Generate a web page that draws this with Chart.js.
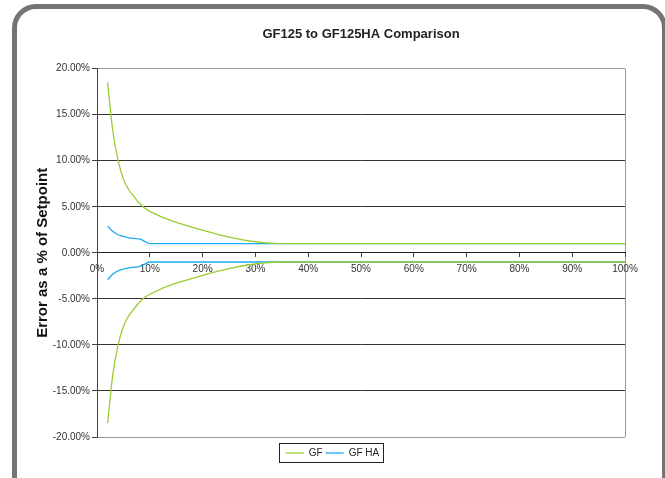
<!DOCTYPE html>
<html>
<head>
<meta charset="utf-8">
<script src="https://cdn.jsdelivr.net/npm/chart.js@4"></script>
<style>
  html, body { margin: 0; padding: 0; background: #fff; overflow: hidden; }
  #frame {
    position: absolute; left: 12px; top: 4px; width: 655px; height: 520px;
    border: 5px solid #747474; border-radius: 24px; box-sizing: border-box;
  }
  #wrap { position: absolute; left: 0; top: 0; width: 665px; height: 478px; }
</style>
</head>
<body>
<div id="frame"></div>
<div id="wrap"><canvas id="chart" width="665" height="478"></canvas></div>
<script>
// % of full scale
const flowPoints = [2, 3, 4, 5, 6, 7, 8, 9, 10, 15, 35, 100];
// error band, upper half (the lower half is the mirror image)
const gfUpper = [18.5, 13.2, 10.0, 8.0, 6.85, 6.1, 5.4, 4.86, 4.5, 3.3, 1.0, 1.0];
const gfhaUpper = [2.93, 2.3, 1.96, 1.77, 1.63, 1.56, 1.5, 1.25, 1.0, 1.0, 1.0, 1.0];
const gfLower = [-18.5, -13.2, -10.0, -8.0, -6.85, -6.1, -5.4, -4.86, -4.5, -3.3, -1.0, -1.0];
const gfhaLower = [-2.93, -2.3, -1.96, -1.77, -1.63, -1.56, -1.5, -1.25, -1.0, -1.0, -1.0, -1.0];

const GREEN = "#9acd32";
const BLUE = "#1eaaf0";
const FONT = "'Liberation Sans', Arial, sans-serif";

function toPoints(xs, ys) {
  return xs.map((x, i) => ({ x: x, y: ys[i] }));
}

function lineSet(label, values, color) {
  return {
    label: label,
    data: toPoints(flowPoints, values),
    borderColor: color,
    backgroundColor: color,
    borderWidth: 1.3,
    pointRadius: 0,
    cubicInterpolationMode: "monotone",
  };
}

// empty axis, only there to hold space
function spacer(pos, size) {
  return {
    type: "linear",
    position: pos,
    display: true,
    grid: { display: false },
    border: { display: false },
    ticks: { display: false },
    afterFit(scale) {
      if (scale.isHorizontal()) scale.height = size;
      else scale.width = size;
    },
  };
}

// box round the legend, like the excel one
const legendBox = {
  id: "legendBox",
  afterDraw(chart) {
    const items = chart.legend.legendHitBoxes;
    if (!items || !items.length) return;
    const left = Math.min(...items.map((b) => b.left)) - 7;
    const right = Math.max(...items.map((b) => b.left + b.width)) + 4;
    const top = items[0].top - 5;
    const bottom = items[0].top + items[0].height + 4;
    const ctx = chart.ctx;
    ctx.save();
    ctx.strokeStyle = "#222";
    ctx.lineWidth = 1;
    ctx.strokeRect(Math.round(left) + 0.5, Math.round(top) + 0.5, Math.round(right - left), Math.round(bottom - top));
    ctx.restore();
  },
};

const ctx = document.getElementById("chart").getContext("2d");
new Chart(ctx, {
  type: "line",
  data: {
    datasets: [
      lineSet("GF", gfUpper, GREEN),
      lineSet("GF HA", gfhaUpper, BLUE),
      lineSet("", gfLower, GREEN),
      lineSet("", gfhaLower, BLUE),
    ],
  },
  options: {
    responsive: false,
    animation: false,
    layout: { padding: { left: 0, right: 0, top: 0, bottom: 10 } },
    plugins: {
      title: {
        display: true,
        fullSize: false,
        text: "GF125 to GF125HA Comparison",
        color: "#222",
        font: { family: FONT, size: 13, weight: "bold" },
        padding: { top: 27, bottom: 26 },
      },
      legend: {
        position: "bottom",
        labels: {
          filter: (item) => item.text !== "",
          usePointStyle: true,
          pointStyle: "line",
          pointStyleWidth: 18,
          boxHeight: 10,
          padding: 3,
          color: "#222",
          font: { family: FONT, size: 10 },
        },
      },
      tooltip: { enabled: false },
    },
    scales: {
      x: {
        type: "linear",
        position: { y: 0 },
        min: 0,
        max: 100,
        border: { color: "#222", width: 1 },
        grid: {
          color: (c) => (c.tick && c.tick.value === 100 ? "#999" : "rgba(0,0,0,0)"),
          tickColor: "#444",
          tickLength: 4,
        },
        ticks: {
          stepSize: 10,
          padding: 6,
          color: "#333",
          maxRotation: 0,
          font: { family: FONT, size: 10 },
          callback: (v) => v + "%",
        },
      },
      y: {
        min: -20,
        max: 20,
        afterFit(scale) { scale.width = 97; },
        border: { color: "#444", width: 1 },
        grid: {
          color: (c) => (c.tick && Math.abs(c.tick.value) === 20 ? "#999" : "#333"),
          tickColor: "#444",
          tickLength: 5,
        },
        ticks: {
          stepSize: 5,
          padding: 2,
          color: "#333",
          font: { family: FONT, size: 10 },
          callback: (v) => v.toFixed(2) + "%",
        },
        title: {
          display: true,
          text: "Error as a % of Setpoint",
          color: "#111",
          padding: { top: 34, bottom: 0 },
          font: { family: FONT, size: 15, weight: "bold" },
        },
      },
      yRightGap: spacer("right", 40),
      xLegendGap: spacer("bottom", 8),
    },
  },
  plugins: [legendBox],
});
</script>
</body>
</html>
